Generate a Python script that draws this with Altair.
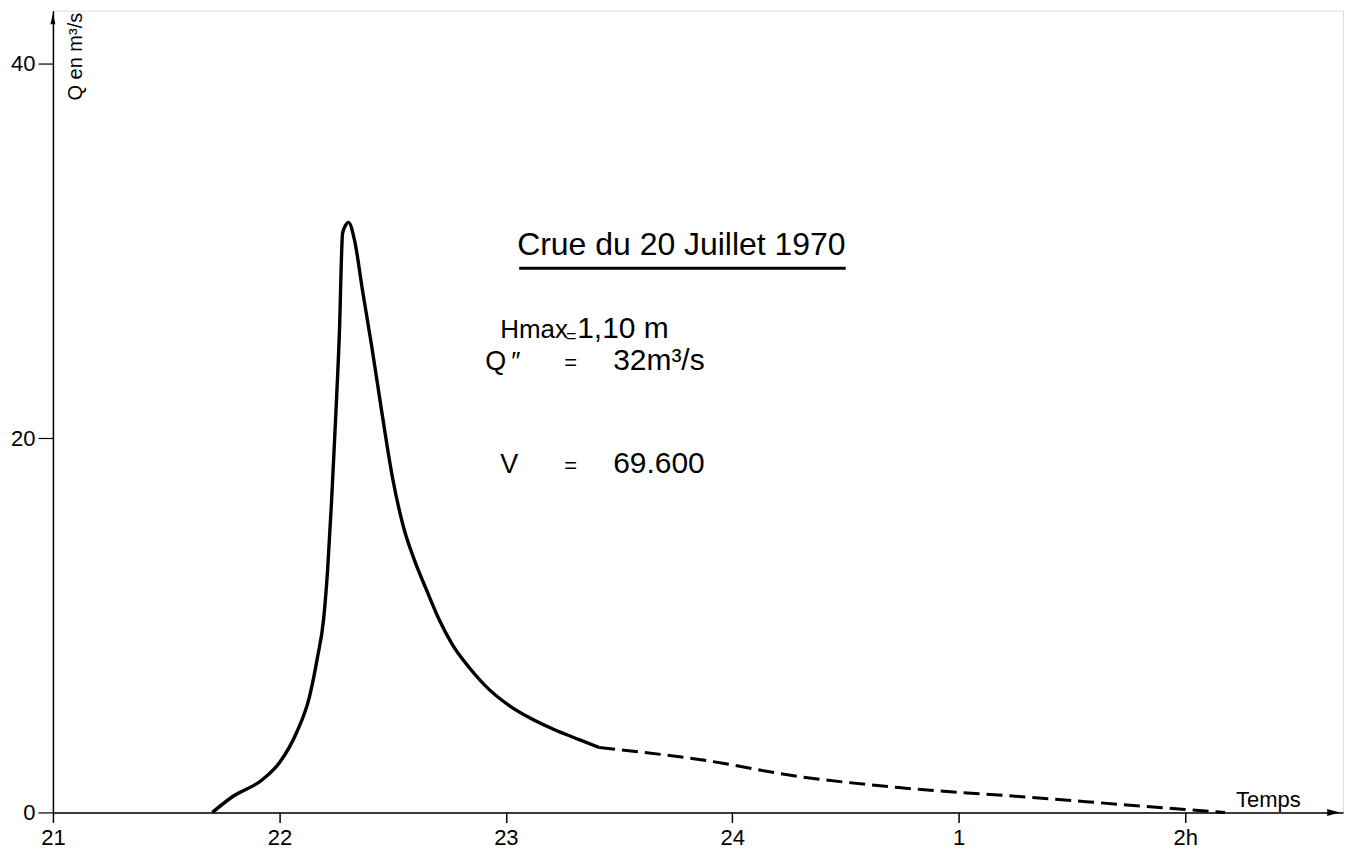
import altair as alt
import pandas as pd

# ---- data (hours after 21h, discharge Q in m3/s) ----
hours_solid = [21.704, 21.794, 21.926, 22.001, 22.076, 22.133, 22.168, 22.195,
               22.213, 22.230, 22.248, 22.265, 22.279, 22.292, 22.305, 22.332,
               22.367, 22.407, 22.451, 22.499, 22.548, 22.596, 22.653, 22.706,
               22.764, 22.839, 22.927, 23.015, 23.103, 23.213, 23.324, 23.412]
q_solid = [0.0, 0.85, 1.76, 2.67, 4.27, 6.19, 8.27, 10.29,
           12.96, 16.53, 20.96, 25.6, 30.93, 31.36, 31.52, 30.56,
           27.89, 24.96, 21.49, 17.92, 15.25, 13.49, 11.79, 10.29,
           8.96, 7.73, 6.56, 5.71, 5.07, 4.43, 3.89, 3.47]
hours_dash = [23.412, 23.853, 24.294, 24.735, 25.321, 26.0, 26.176]
q_dash = [3.47, 2.83, 1.92, 1.33, 0.8, 0.16, 0.0]

x_ticks = [21, 22, 23, 24, 25, 26]
x_tick_labels = ["21", "22", "23", "24", "1", "2h"]
y_ticks = [0, 20, 40]

title_text = "Crue du 20 Juillet 1970"
y_title = "Q en m³/s"
x_title = "Temps"

FONT = "Liberation Sans"
X_DOM = [21, 26.697]
Y_DOM = [0, 42.83]
W, H = 1292, 803

solid_df = pd.DataFrame({"t": hours_solid, "q": q_solid})
dash_df = pd.DataFrame({"t": hours_dash, "q": q_dash})

label_expr = "{" + ",".join(f"'{v}':'{l}'" for v, l in zip(x_ticks, x_tick_labels)) + "}[datum.value]"

xs = alt.Scale(domain=X_DOM, nice=False, zero=False)
ys = alt.Scale(domain=Y_DOM, nice=False)

x_axis = alt.Axis(values=x_ticks, labelExpr=label_expr, title=None, grid=False,
                  domainColor="black", domainWidth=1.5, tickColor="black", tickWidth=1.5,
                  tickSize=10, labelFont=FONT, labelFontSize=22, labelColor="black",
                  labelPadding=5, labelFlush=False)
y_axis = alt.Axis(values=y_ticks, title=None, grid=False,
                  domainColor="black", domainWidth=1.5, tickColor="black", tickWidth=1.2,
                  tickSize=15, labelFont=FONT, labelFontSize=22, labelColor="black",
                  labelPadding=3, labelFlush=False)

base_solid = alt.Chart(solid_df).mark_line(color="black", strokeWidth=3.4,
                                             interpolate="monotone").encode(
    x=alt.X("t:Q", scale=xs, axis=x_axis),
    y=alt.Y("q:Q", scale=ys, axis=y_axis),
)
dashed = alt.Chart(dash_df).mark_line(color="black", strokeWidth=3, strokeDash=[16, 7],
                                       interpolate="monotone").encode(
    x=alt.X("t:Q", scale=xs), y=alt.Y("q:Q", scale=ys))

one = alt.Chart(pd.DataFrame({"a": [0]}))

def txt(s, x, y, size, angle=0, align="left", baseline="alphabetic", dy=0, font=FONT):
    kw = dict(text=s, fontSize=size, font=font, color="black", align=align,
              baseline=baseline, dy=dy)
    if angle:
        kw["angle"] = angle
    return one.mark_text(**kw).encode(x=alt.datum(x), y=alt.datum(y))

# arrowheads
arrow_r = one.mark_point(shape="M-1,-0.55L1,0L-1,0.55Z", filled=True, color="black",
                         size=160, opacity=1).encode(x=alt.datum(26.655), y=alt.datum(0))
arrow_u = one.mark_point(shape="M-0.45,1L0,-1L0.45,1Z", filled=True, color="black",
                         size=120, opacity=1).encode(x=alt.datum(21), y=alt.datum(42.4))

underline = one.mark_rule(color="black", strokeWidth=3).encode(
    x=alt.datum(23.059), x2=alt.datum(24.501), y=alt.datum(29.07))

layers = [
    base_solid, dashed, arrow_r, arrow_u, underline,
    txt(title_text, 23.050, 29.76, 32),
    txt("Hmax", 22.975, 25.33, 26),
    txt("=", 23.266, 25.12, 18),
    txt("1,10 m", 23.315, 25.33, 30),
    txt("Q", 22.909, 23.63, 27),
    txt("″", 23.024, 23.63, 26),
    txt("=", 23.258, 23.63, 22),
    txt("32m³/s", 23.474, 23.63, 30),
    txt("V", 22.975, 18.13, 27),
    txt("=", 23.258, 18.13, 22),
    txt("69.600", 23.474, 18.13, 30),
    txt(x_title, 26.225, 0, 22, dy=-5),
    txt(y_title, 21.128, 38.03, 20, angle=270, align="left", baseline="alphabetic"),
]

chart = alt.layer(*layers).properties(
    width=W, height=H,
    autosize=alt.AutoSizeParams(type="none"),
    padding={"left": 45, "top": 2, "right": 5, "bottom": 40},
).configure_view(stroke=None).configure(background="white")

chart.save("out.html", embed_options={"renderer": "svg", "actions": False})
